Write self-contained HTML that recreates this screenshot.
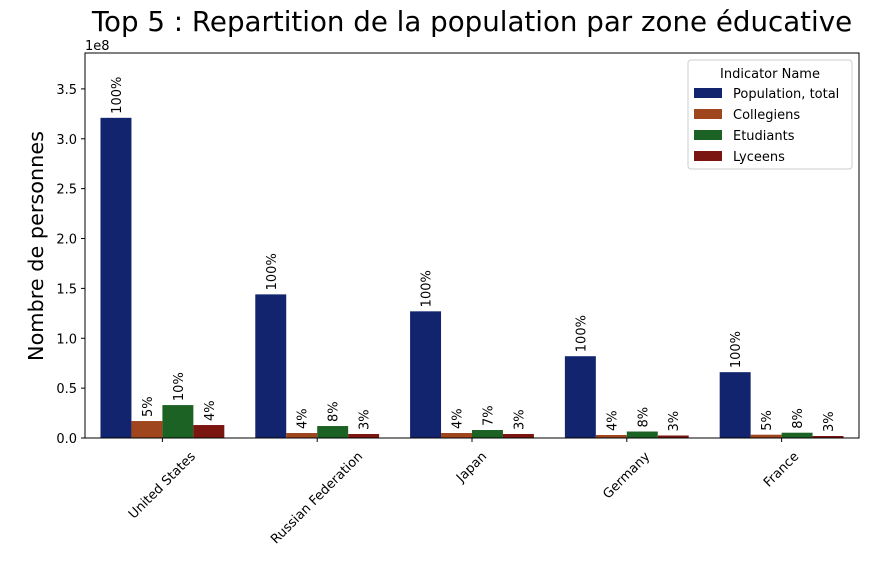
<!DOCTYPE html>
<html><head><meta charset="utf-8"><style>
body{margin:0;background:#fff;}
svg text{font-family:"DejaVu Sans","Liberation Sans",sans-serif;fill:#000;}
</style></head><body>
<svg id="c" width="872" height="566" xmlns="http://www.w3.org/2000/svg"></svg>
<script>
const categories=["United States","Russian Federation","Japan","Germany","France"];
const seriesNames=["Population, total","Collegiens","Etudiants","Lyceens"];
const popTotal=[3.21,1.44,1.27,0.82,0.66];
const collegiens=[0.17,0.05,0.05,0.03,0.033];
const etudiants=[0.33,0.12,0.08,0.065,0.053];
const lyceens=[0.13,0.04,0.04,0.025,0.02];
const popLabels=["100%","100%","100%","100%","100%"];
const collLabels=["5%","4%","4%","4%","5%"];
const etudLabels=["10%","8%","7%","8%","8%"];
const lycLabels=["4%","3%","3%","3%","3%"];
const yTicks=[0,0.5,1.0,1.5,2.0,2.5,3.0,3.5];
const colors=["#12246e","#a0461e","#1c6224","#7a1510"];

const svg=document.getElementById('c');
const NS="http://www.w3.org/2000/svg";
const L=85,R=859,T=53,B=438;
const yMax=3.86;
function y(v){return B-(v/yMax)*(B-T);}
const gw=(R-L)/categories.length, bw=gw*0.8/4;
function x(ci,si){return L+gw*ci+gw*0.1+bw*si;}
function mk(tag,attrs,txt){const e=document.createElementNS(NS,tag);for(const k in attrs)e.setAttribute(k,attrs[k]);if(txt!==undefined)e.textContent=txt;svg.appendChild(e);return e;}

const title=mk('text',{x:472,y:31,'text-anchor':'middle','font-size':'27.7'},'Top 5 : Repartition de la population par zone éducative');

const yt=mk('text',{x:0,y:0,'text-anchor':'middle','font-size':'20.8',transform:'translate(43,246) rotate(-90)'},'Nombre de personnes');

const off=mk('text',{x:85,y:50,'font-size':'13'},'1e8');


const series=[popTotal,collegiens,etudiants,lyceens];
const labels=[popLabels,collLabels,etudLabels,lycLabels];
series.forEach((s,si)=>{s.forEach((v,ci)=>{
  const r=mk('rect',{x:x(ci,si),y:y(v),width:bw,height:B-y(v),fill:colors[si]});
  
  
  const cx=x(ci,si)+bw/2+5, ty=y(v)-4;
  const t=mk('text',{x:0,y:0,'font-size':'13',transform:`translate(${cx},${ty}) rotate(-90)`},labels[si][ci]);
  
  
});});

const frame=mk('rect',{x:L,y:T,width:R-L,height:B-T,fill:'none',stroke:'#000','stroke-width':1});


yTicks.forEach(v=>{
  mk('line',{x1:L-4,x2:L,y1:y(v),y2:y(v),stroke:'#000'});
  const t=mk('text',{x:L-8,y:y(v)+5,'text-anchor':'end','font-size':'13'},v.toFixed(1));
  
  
});
categories.forEach((c,ci)=>{
  const cx=L+gw*ci+gw/2;
  mk('line',{x1:cx,x2:cx,y1:B,y2:B+4,stroke:'#000'});
  const t=mk('text',{x:0,y:0,'text-anchor':'middle','dominant-baseline':'central','font-size':'13'},c);
  
  
  const w=t.getComputedTextLength(), h=13;
  const cy=B+12+(w+h)/(2*Math.SQRT2);
  t.setAttribute('transform',`translate(${cx},${cy}) rotate(-45)`);
});

const lg=mk('rect',{x:688,y:60,width:164,height:109,fill:'#fff',stroke:'#ccc',rx:3});

const lt=mk('text',{x:770,y:78,'text-anchor':'middle','font-size':'13'},'Indicator Name');

seriesNames.forEach((n,i)=>{
  const yy=93+i*21;
  mk('rect',{x:694,y:yy-5,width:28,height:10,fill:colors[i]});
  const t=mk('text',{x:733,y:yy+5,'font-size':'13'},n);
  
  
});
</script>
</body></html>
